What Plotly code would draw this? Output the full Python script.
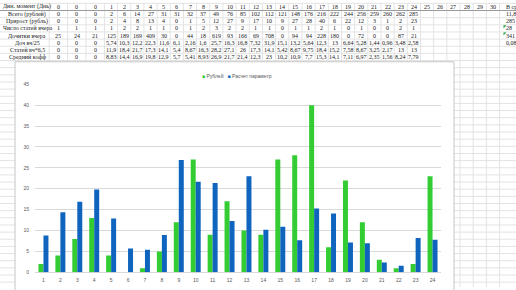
import plotly.graph_objects as go

W, H = 516, 290

# ---------------- data ----------------
days = [str(d) for d in range(1, 25)]
rubles = [2, 4, 8, 13, 4, 0, 1, 5, 12, 27, 9, 17, 10, 9, 27, 28, 40, 6, 22, 12, 3, 1, 2, 23]
calc_param = [8.83, 14.4, 16.9, 19.8, 12.9, 5.7, 5.41, 8.93, 26.9, 21.7, 21.4, 12.3,
              23, 10.2, 10.9, 7.7, 15.3, 14.1, 7.11, 6.97, 2.35, 1.56, 8.24, 7.79]
series_names = ["Рублей", "Расчет параметр"]
y_ticks = [0, 5, 10, 15, 20, 25, 30, 35, 40, 45]

row_labels = ["Дин. момент (Днь)", "Всего (рублей)", "Прирост (рубль)", "Число статей вчера",
              "Дочитки вчера", "Доч вч/25", "Статей вч*6,5", "Средний кофф"]
header_row = ["0", "0", "0"] + [str(d) for d in range(1, 31)]
total_row = ["0", "0", "0", "2", "6", "14", "27", "31", "31", "32", "37", "49", "76", "85", "102",
             "112", "121", "148", "176", "216", "222", "244", "256", "259", "260", "262", "285"]
lead_zero = ["0", "0", "0"]
growth_row = lead_zero + [str(v) for v in rubles]
articles_row = ["1", "1", "1", "1", "2", "2", "1", "1", "0", "1", "2", "3", "2", "2", "1",
                "1", "0", "1", "1", "2", "1", "0", "1", "0", "0", "2", "1"]
reads_row = ["25", "24", "21", "125", "189", "169", "409", "30", "0", "44", "18", "619", "93", "166", "69",
             "708", "0", "94", "94", "228", "180", "0", "72", "0", "0", "87", "21"]
reads25_row = ["0", "0", "0", "5,74", "10,3", "12,2", "22,3", "11,6", "6,1", "2,16", "1,6", "25,7", "16,3",
               "16,8", "7,32", "31,9", "15,1", "13,2", "5,64", "12,3", "13", "6,64", "5,28", "1,44",
               "0,96", "3,48", "2,58"]
art65_row = ["0", "0", "0", "11,9", "18,4", "21,7", "17,3", "14,1", "5,4", "8,67", "16,3", "28,2", "27,1",
             "26", "17,3", "14,1", "5,42", "8,67", "9,75", "18,4", "15,2", "7,58", "8,67", "3,25",
             "2,17", "13", "13"]
avg_row = lead_zero + [f"{v:g}".replace(".", ",") for v in calc_param]
side_col = ["В сред", "11,875", "285", "28", "341", "0,08", "", ""]

table_rows = [header_row, total_row, growth_row, articles_row, reads_row, reads25_row, art65_row, avg_row]

GREEN = "#33cc33"
BLUE = "#0f64be"

# ---------------- helpers (pixel -> paper) ----------------
def px(x):
    return x / W

def py(y):
    return 1 - y / H

ROW0, ROWH = 4.0, 7.3
LABEL_CX = 27
LEAD_W = 18.4
LEAD_X0 = 49.2
DAY0, DAYW = 111.0, 13.17
SIDE_X = 505

def col_center(j):
    if j < 3:
        return LEAD_X0 + LEAD_W * (j + 0.5)
    return DAY0 + DAYW * (j - 3)

# ---------------- figure ----------------
fig = go.Figure()
fig.add_trace(go.Bar(x=days, y=rubles, name=series_names[0], marker_color=GREEN, marker_line_width=0))
fig.add_trace(go.Bar(x=days, y=calc_param, name=series_names[1], marker_color=BLUE, marker_line_width=0))

shapes = []
grid_col = "#e3e3e3"
k = 0
while True:
    yy = ROW0 - ROWH / 2 + ROWH * k
    if yy > H + 2:
        break
    shapes.append(dict(type="line", xref="paper", yref="paper", x0=0, x1=1, y0=py(yy), y1=py(yy),
                       line=dict(color=grid_col, width=1), layer="below"))
    k += 1
bounds = [LEAD_X0 + LEAD_W * i for i in range(3)] + [DAY0 - DAYW / 2 + DAYW * i for i in range(31)]
for b in bounds:
    shapes.append(dict(type="line", xref="paper", yref="paper", x0=px(b), x1=px(b), y0=0, y1=1,
                       line=dict(color=grid_col, width=1), layer="below"))
shapes.append(dict(type="line", xref="paper", yref="paper", x0=0, x1=1,
                   y0=py(ROW0 + ROWH / 2), y1=py(ROW0 + ROWH / 2),
                   line=dict(color="#9a9a9a", width=1), layer="below"))
shapes.append(dict(type="rect", xref="paper", yref="paper", x0=px(15), x1=px(454), y0=py(296), y1=py(60),
                   fillcolor="white", line=dict(color="#c6c6c6", width=1), layer="below"))
for r in (3, 4):
    yt = ROW0 - ROWH / 2 + ROWH * r
    shapes.append(dict(type="path", xref="paper", yref="paper",
                       path=f"M {px(503.5)} {py(yt + 0.5)} L {px(506.5)} {py(yt + 0.5)} L {px(503.5)} {py(yt + 3.5)} Z",
                       fillcolor="#1e9e3a", line=dict(width=0), layer="below"))

ann = []
tfont = dict(family="Liberation Serif", size=6, color="#1a1a1a")
for i, lab in enumerate(row_labels):
    yc = py(ROW0 + ROWH * i)
    ann.append(dict(x=px(LABEL_CX), y=yc, xref="paper", yref="paper", text=lab, showarrow=False,
                    xanchor="center", yanchor="middle", font=tfont, borderpad=0))
    for j, v in enumerate(table_rows[i]):
        ann.append(dict(x=px(col_center(j)), y=yc, xref="paper", yref="paper", text=v, showarrow=False,
                        xanchor="center", yanchor="middle", font=tfont, borderpad=0))
    if side_col[i]:
        ann.append(dict(x=px(SIDE_X), y=yc, xref="paper", yref="paper", text=side_col[i], showarrow=False,
                        xanchor="left", yanchor="middle", font=tfont, borderpad=0))

ann.append(dict(x=px(200), y=py(75), xref="paper", yref="paper", showarrow=False, xanchor="left",
                yanchor="middle",
                text=f"<span style='color:{GREEN}'>■</span> {series_names[0]}   "
                     f"<span style='color:{BLUE}'>■</span> {series_names[1]}",
                font=dict(family="Liberation Sans", size=5, color="#595959")))

fig.update_layout(
    width=W, height=H, margin=dict(l=0, r=0, t=0, b=0),
    paper_bgcolor="white", plot_bgcolor="white",
    showlegend=False, barmode="group", bargap=0.41, bargroupgap=0,
    shapes=shapes, annotations=ann,
    xaxis=dict(domain=[px(35), px(441)], type="category", showgrid=False, showline=False, zeroline=False,
               ticks="", tickfont=dict(family="Liberation Sans", size=5, color="#595959"),
               ticklabelstandoff=4),
    yaxis=dict(domain=[py(275), py(83)], range=[0, 45], tickvals=y_ticks, showgrid=True,
               gridcolor="#d9d9d9", gridwidth=1, zeroline=True, zerolinecolor="#d9d9d9", zerolinewidth=1,
               showline=False, ticks="", tickfont=dict(family="Liberation Sans", size=5, color="#595959"),
               ticklabelstandoff=5),
)

fig.write_html("out.html")
